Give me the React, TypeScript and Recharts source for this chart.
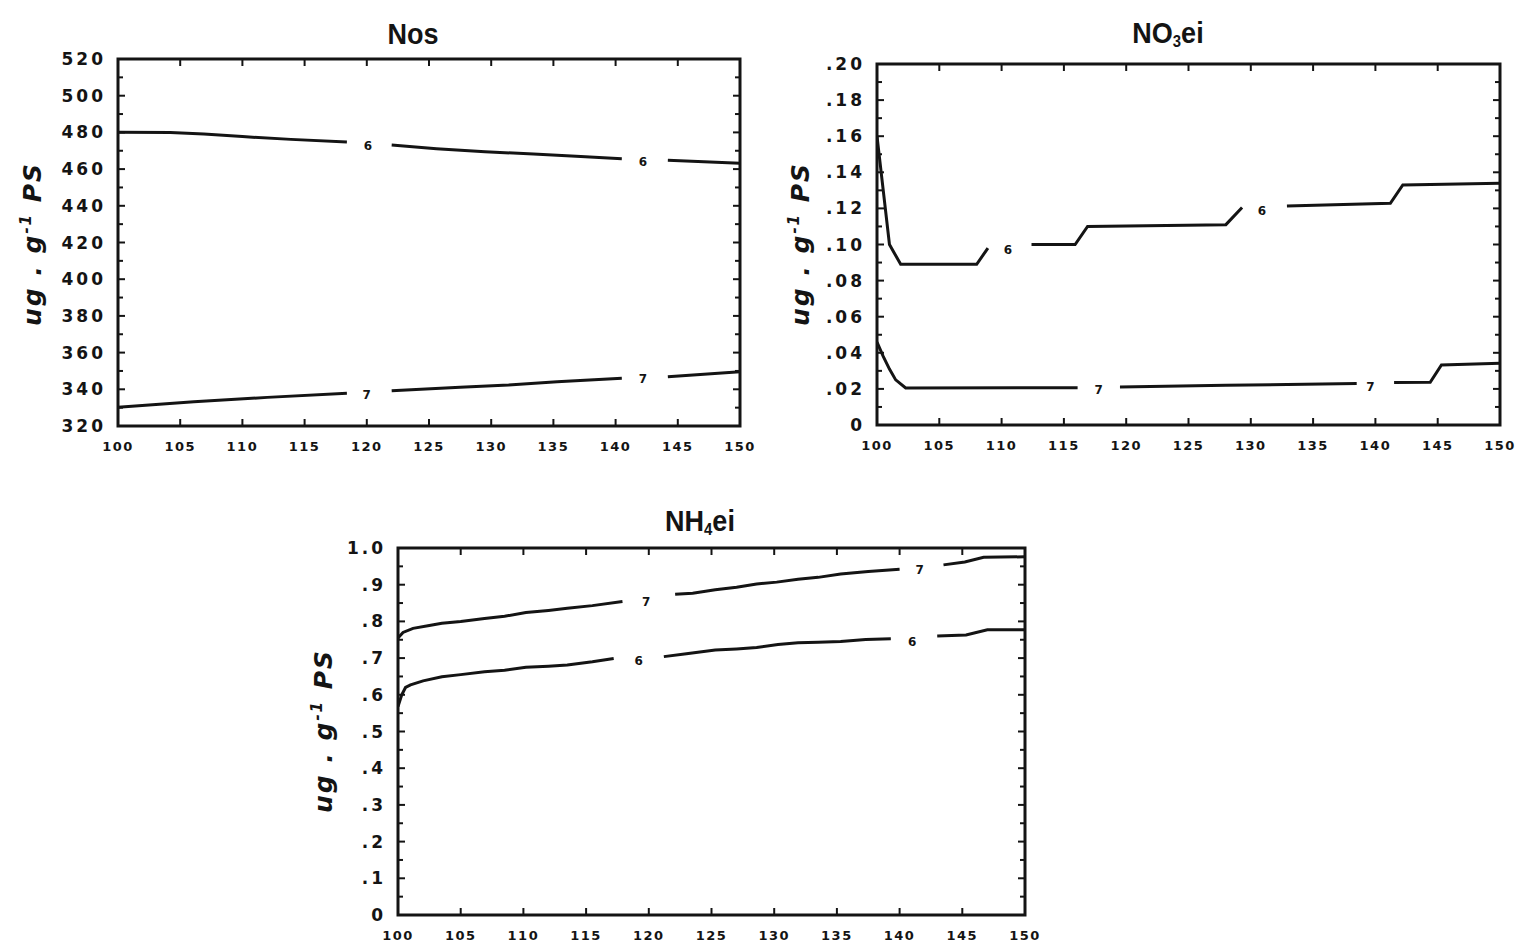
import React from "react";
import { ComposedChart, Line, Scatter, XAxis, YAxis, ReferenceArea } from "recharts";

type Pt = { x: number; y: number | null };
type Mark = { x: number; y: number; t: string };

const xTicks = [100, 105, 110, 115, 120, 125, 130, 135, 140, 145, 150];

// Nos
const nosTicks = [320, 340, 360, 380, 400, 420, 440, 460, 480, 500, 520];
const nosTickLabels = ["320", "340", "360", "380", "400", "420", "440", "460", "480", "500", "520"];
const nosMinor = [330, 350, 370, 390, 410, 430, 450, 470, 490, 510];
const nos6X = [100, 104.2, 106.9, 110, 113.9, 118.4, 120, 122, 125.6, 129.5, 133.4, 137.2, 140.5, 142.2, 144.2, 150];
const nos6Y = [480.1, 480, 479.1, 477.7, 476.2, 474.8, null, 473.1, 471.1, 469.5, 468.2, 466.8, 465.7, null, 464.8, 463.2];
const nos7X = [100, 106.1, 112, 118.4, 120, 122, 127.5, 131.4, 135.3, 140.5, 142.2, 144.2, 150];
const nos7Y = [330.2, 333.2, 335.6, 337.8, null, 339.2, 341.1, 342.3, 344.1, 346, null, 346.9, 349.6];
const nosMarks: Mark[] = [
  { x: 120.1, y: 472.4, t: "6" },
  { x: 142.2, y: 463.8, t: "6" },
  { x: 120, y: 336.9, t: "7" },
  { x: 142.2, y: 345.6, t: "7" },
];

// NO3ei
const no3Ticks = [0, 0.02, 0.04, 0.06, 0.08, 0.1, 0.12, 0.14, 0.16, 0.18, 0.2];
const no3TickLabels = ["0", ".02", ".04", ".06", ".08", ".10", ".12", ".14", ".16", ".18", ".20"];
const no3Minor = [0.01, 0.03, 0.05, 0.07, 0.09, 0.11, 0.13, 0.15, 0.17, 0.19];
const no36X = [100, 101, 101.9, 108, 108.9, 110.5, 112.4, 115.9, 116.9, 128, 129.3, 131, 132.9, 141.2, 142.2, 150];
const no36Y = [0.16, 0.1, 0.089, 0.089, 0.098, null, 0.1, 0.1, 0.11, 0.111, 0.1205, null, 0.1213, 0.1228, 0.133, 0.134];
const no37X = [100, 100.5, 101, 101.5, 102.3, 116.1, 117.8, 119.5, 128, 138.5, 140.3, 141.5, 144.4, 145.3, 150];
const no37Y = [0.046, 0.038, 0.031, 0.025, 0.0205, 0.0207, null, 0.021, 0.022, 0.023, null, 0.0235, 0.0237, 0.0333, 0.0342];
const no3Marks: Mark[] = [
  { x: 110.5, y: 0.097, t: "6" },
  { x: 130.9, y: 0.1186, t: "6" },
  { x: 117.8, y: 0.0195, t: "7" },
  { x: 139.6, y: 0.021, t: "7" },
];

// NH4ei
const nh4Ticks = [0, 0.1, 0.2, 0.3, 0.4, 0.5, 0.6, 0.7, 0.8, 0.9, 1.0];
const nh4TickLabels = ["0", ".1", ".2", ".3", ".4", ".5", ".6", ".7", ".8", ".9", "1.0"];
const nh4Minor = [0.05, 0.15, 0.25, 0.35, 0.45, 0.55, 0.65, 0.75, 0.85, 0.95];
const nh47X = [100, 100.4, 101.2, 102.5, 103.5, 105, 106.9, 108.5, 110.2, 112, 113.5, 115.5, 117.9, 119.9, 122.1, 123.5, 125.3, 127, 128.6, 130.2, 131.9, 133.5, 135.3, 137.5, 140, 141.6, 143.5, 145.2, 146.7, 150];
const nh47Y = [0.755, 0.77, 0.781, 0.789, 0.795, 0.8, 0.808, 0.814, 0.824, 0.83, 0.836, 0.843, 0.854, null, 0.874, 0.877, 0.886, 0.893, 0.902, 0.907, 0.915, 0.92, 0.929, 0.936, 0.942, null, 0.954, 0.962, 0.975, 0.976];
const nh46X = [100, 100.3, 100.6, 101, 102, 103.5, 105, 106.9, 108.5, 110.2, 112, 113.5, 115.5, 117.2, 119.2, 121.2, 123, 125.3, 127, 128.6, 130.3, 131.9, 133.5, 135.3, 137.3, 139.3, 141, 143, 145.3, 147, 150];
const nh46Y = [0.568, 0.6, 0.62, 0.627, 0.638, 0.649, 0.655, 0.663, 0.667, 0.675, 0.678, 0.681, 0.69, 0.699, null, 0.704, 0.712, 0.722, 0.725, 0.729, 0.737, 0.742, 0.743, 0.745, 0.751, 0.753, null, 0.76, 0.763, 0.777, 0.777];
const nh4Marks: Mark[] = [
  { x: 119.8, y: 0.853, t: "7" },
  { x: 141.6, y: 0.94, t: "7" },
  { x: 119.2, y: 0.693, t: "6" },
  { x: 141, y: 0.745, t: "6" },
];

const zip = (xs: number[], ys: (number | null)[]): Pt[] => xs.map((x, i) => ({ x, y: ys[i] }));

const INK = "#141414";
const TICK_FONT = "'DejaVu Sans', Verdana, sans-serif";

type PanelProps = {
  left: number;
  top: number;
  w: number;
  h: number;
  domain: [number, number];
  ticks: number[];
  tickLabels: string[];
  minor: number[];
  series: Pt[][];
  marks: Mark[];
};

function Panel({ left, top, w, h, domain, ticks, tickLabels, minor, series, marks }: PanelProps) {
  const padTop = 20;
  const yW = 110;
  const xH = 30;
  const width = w + yW + 20;
  const height = h + padTop + xH;

  const XTick = (p: any) => {
    const { x, y, payload } = p;
    return (
      <g>
        <line x1={x} y1={y} x2={x} y2={y - 7} stroke={INK} strokeWidth={2} />
        <line x1={x} y1={y - h} x2={x} y2={y - h + 7} stroke={INK} strokeWidth={2} />
        <text x={x} y={y + 25} textAnchor="middle" fontFamily={TICK_FONT} fontWeight="bold" fontSize={13} letterSpacing={1.5} fill={INK}>
          {payload.value}
        </text>
      </g>
    );
  };

  const YTick = (p: any) => {
    const { x, y, payload } = p;
    const i = ticks.indexOf(payload.value);
    const len = i >= 0 ? 7 : 5;
    return (
      <g>
        <line x1={x} y1={y} x2={x + len} y2={y} stroke={INK} strokeWidth={2} />
        <line x1={x + w} y1={y} x2={x + w - len} y2={y} stroke={INK} strokeWidth={2} />
        {i >= 0 && (
          <text x={x - 12} y={y + 6} textAnchor="end" fontFamily={TICK_FONT} fontWeight="bold" fontSize={17} letterSpacing={3} fill={INK}>
            {tickLabels[i]}
          </text>
        )}
      </g>
    );
  };

  const MarkShape = (p: any) => (
    <text x={p.cx} y={p.cy} textAnchor="middle" dominantBaseline="central" fontFamily={TICK_FONT} fontWeight="bold" fontSize={12} fill={INK}>
      {p.payload.t}
    </text>
  );

  const allY = [...ticks, ...minor].sort((a, b) => a - b);

  return (
    <div style={{ position: "absolute", left: left - yW, top: top - padTop }}>
      <ComposedChart width={width} height={height} margin={{ top: padTop, right: 20, bottom: 0, left: 0 }}>
        <XAxis
          dataKey="x"
          type="number"
          domain={[100, 150]}
          ticks={xTicks}
          interval={0}
          allowDataOverflow
          height={xH}
          tickSize={0}
          tickMargin={0}
          tickLine={false}
          axisLine={false}
          tick={XTick}
        />
        <YAxis
          type="number"
          domain={domain}
          ticks={allY}
          interval={0}
          allowDataOverflow
          width={yW}
          tickSize={0}
          tickMargin={0}
          tickLine={false}
          axisLine={false}
          tick={YTick}
        />
        <ReferenceArea x1={100} x2={150} y1={domain[0]} y2={domain[1]} fill="none" stroke={INK} strokeWidth={3} />
        {series.map((s, i) => (
          <Line
            key={i}
            data={s}
            dataKey="y"
            type="linear"
            stroke={INK}
            strokeWidth={3}
            dot={false}
            connectNulls={false}
            isAnimationActive={false}
          />
        ))}
        <Scatter data={marks} dataKey="y" shape={MarkShape} isAnimationActive={false} />
      </ComposedChart>
    </div>
  );
}

const titleStyle: React.CSSProperties = {
  position: "absolute",
  transform: "translate(-50%, -50%) scaleX(0.9)",
  fontFamily: "'Liberation Sans', Arial, sans-serif",
  fontWeight: "bold",
  fontSize: 30,
  color: INK,
  whiteSpace: "nowrap",
  lineHeight: 1,
};

const yLabelStyle: React.CSSProperties = {
  position: "absolute",
  transform: "translate(-50%, -50%) rotate(-90deg)",
  fontFamily: "'DejaVu Sans', Verdana, sans-serif",
  fontWeight: "bold",
  fontStyle: "italic",
  fontSize: 25,
  letterSpacing: 2,
  color: INK,
  whiteSpace: "nowrap",
  lineHeight: 1,
};

function YLabel({ x, y }: { x: number; y: number }) {
  return (
    <div style={{ ...yLabelStyle, left: x, top: y }}>
      ug . g<sup style={{ fontSize: "60%", verticalAlign: "0.7em" }}>-1</sup> PS
    </div>
  );
}

export default function App() {
  return (
    <div style={{ position: "absolute", left: 0, top: 0, width: 1519, height: 945, background: "#fff", overflow: "hidden" }}>
      <Panel
        left={118}
        top={59}
        w={622}
        h={367}
        domain={[320, 520]}
        ticks={nosTicks}
        tickLabels={nosTickLabels}
        minor={nosMinor}
        series={[zip(nos6X, nos6Y), zip(nos7X, nos7Y)]}
        marks={nosMarks}
      />
      <Panel
        left={877}
        top={64}
        w={623}
        h={361}
        domain={[0, 0.2]}
        ticks={no3Ticks}
        tickLabels={no3TickLabels}
        minor={no3Minor}
        series={[zip(no36X, no36Y), zip(no37X, no37Y)]}
        marks={no3Marks}
      />
      <Panel
        left={398}
        top={548}
        w={627}
        h={367}
        domain={[0, 1]}
        ticks={nh4Ticks}
        tickLabels={nh4TickLabels}
        minor={nh4Minor}
        series={[zip(nh47X, nh47Y), zip(nh46X, nh46Y)]}
        marks={nh4Marks}
      />
      <div style={{ ...titleStyle, left: 413, top: 34 }}>Nos</div>
      <div style={{ ...titleStyle, left: 1168, top: 34 }}>
        NO<sub style={{ fontSize: "55%", verticalAlign: "-0.25em" }}>3</sub>ei
      </div>
      <div style={{ ...titleStyle, left: 700, top: 522 }}>
        NH<sub style={{ fontSize: "55%", verticalAlign: "-0.25em" }}>4</sub>ei
      </div>
      <YLabel x={32} y={244} />
      <YLabel x={800} y={244} />
      <YLabel x={323} y={731} />
    </div>
  );
}
